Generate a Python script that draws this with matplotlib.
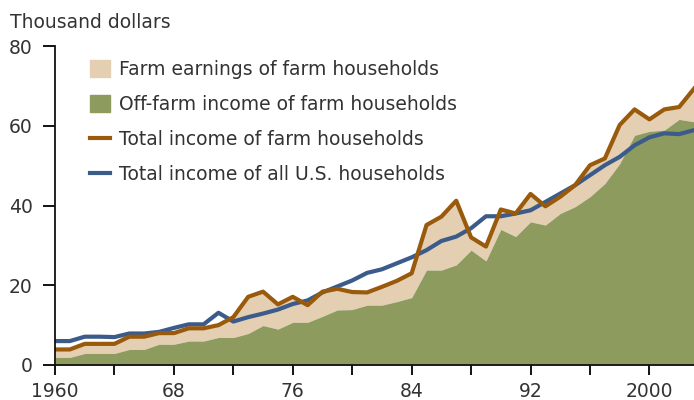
import matplotlib
matplotlib.use("Agg")
import matplotlib.pyplot as plt
from matplotlib.patches import Patch
from matplotlib.lines import Line2D

# Income of farm households vs all U.S. households, thousand dollars
years = list(range(1960, 2004))

total_farm = [3.9, 3.9, 5.3, 5.3, 5.3, 7.1, 7.1, 8.0, 8.0, 9.2,
              9.2, 10.0, 12.0, 17.1, 18.4, 15.2, 17.1, 15.0, 18.4, 19.1,
              18.3, 18.2, 19.6, 21.1, 23.0, 35.1, 37.2, 41.2, 32.0, 29.7,
              39.0, 38.0, 42.9, 39.8, 42.2, 45.1, 50.1, 51.8, 60.2, 64.1,
              61.6, 64.1, 64.7, 69.3]

off_farm = [1.9, 1.9, 2.9, 2.9, 2.9, 3.9, 3.9, 5.2, 5.2, 6.0,
            6.0, 6.9, 6.9, 7.9, 9.9, 9.0, 10.7, 10.7, 12.2, 13.8,
            13.9, 15.0, 15.0, 15.9, 16.9, 23.8, 23.8, 25.1, 28.8, 26.1,
            34.0, 32.2, 35.9, 35.1, 38.0, 39.7, 42.2, 45.5, 50.5, 57.6,
            58.6, 58.9, 61.6, 61.0]

total_all = [6.0, 6.0, 7.1, 7.1, 7.0, 7.9, 7.9, 8.3, 9.3, 10.2,
             10.2, 13.1, 10.9, 12.0, 12.9, 13.9, 15.3, 16.2, 18.2, 19.7,
             21.2, 23.1, 24.0, 25.5, 27.0, 28.8, 31.1, 32.2, 34.3, 37.3,
             37.3, 38.0, 38.8, 40.9, 43.0, 45.1, 47.6, 50.1, 52.2, 55.1,
             57.1, 58.1, 57.9, 58.9]

labels = ["Farm earnings of farm households",
          "Off-farm income of farm households",
          "Total income of farm households",
          "Total income of all U.S. households"]

xticks = list(range(1960, 2004, 4))
xticklabels = ["1960", "", "68", "", "76", "", "84", "", "92", "", "2000"]

beige = "#e4cfb2"
green = "#8e9b5f"
orange = "#9a5a0c"
blue = "#3b5b8a"
text_col = "#333333"

fig = plt.figure(figsize=(6.94, 4.0), dpi=100)
ax = fig.add_axes([55 / 694, 35 / 400, 1 - 55 / 694, 319 / 400])

ax.fill_between(years, off_farm, total_farm, color=beige, lw=0)
ax.fill_between(years, 0, off_farm, color=green, lw=0)
ax.plot(years, total_all, color=blue, lw=3)
ax.plot(years, total_farm, color=orange, lw=3)

ax.set_xlim(1960, 2003)
ax.set_ylim(0, 80)
ax.set_yticks([0, 20, 40, 60, 80])
ax.set_xticks(xticks)
ax.set_xticklabels(xticklabels)
for s in ["top", "right"]:
    ax.spines[s].set_visible(False)
for s in ["left", "bottom"]:
    ax.spines[s].set_linewidth(1.3)
    ax.spines[s].set_color("#111111")
    ax.spines[s].set_zorder(5)
ax.tick_params(axis="y", length=9, width=1.3, pad=7, labelsize=13.5, labelcolor=text_col)
ax.tick_params(axis="x", length=7, width=1.3, pad=5, labelsize=13.5, labelcolor=text_col)

fig.text(10 / 694, 1 - 28 / 400, "Thousand dollars", fontsize=13.5, color=text_col)

handles = [Patch(color=beige), Patch(color=green),
           Line2D([], [], color=orange, lw=3), Line2D([], [], color=blue, lw=3)]
ax.legend(handles, labels, loc="upper left", bbox_to_anchor=(90 / 694, 1 - 60 / 400),
          bbox_transform=fig.transFigure, frameon=False, fontsize=13.5,
          handlelength=1.05, handleheight=0.95, handletextpad=0.5,
          labelspacing=0.85, borderpad=0, borderaxespad=0, labelcolor=text_col)

fig.savefig("out.png", dpi=100)
